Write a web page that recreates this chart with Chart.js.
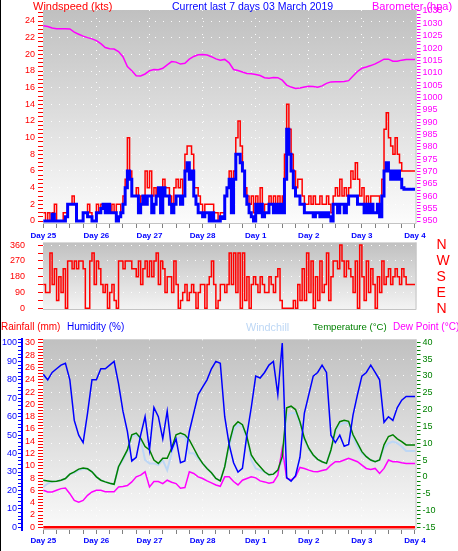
<!DOCTYPE html>
<html><head><meta charset="utf-8">
<script src="https://cdn.jsdelivr.net/npm/chart.js@4/dist/chart.umd.min.js"></script>
<style>
html,body{margin:0;padding:0;background:#fff;}
#wrap{position:relative;width:458px;height:551px;overflow:hidden;background:#fff;font-family:"Liberation Sans",Arial,sans-serif;}
canvas{position:absolute;left:0;}
.t{position:absolute;white-space:nowrap;line-height:12px;z-index:5;}
</style></head><body>
<div id="wrap">
<canvas id="c1" width="458" height="242" style="top:0"></canvas>
<canvas id="c2" width="458" height="105" style="top:224px"></canvas>
<canvas id="c3" width="458" height="231" style="top:320px"></canvas>
<div style="position:absolute;left:0;top:0;width:1px;height:551px;background:#000;z-index:6"></div>
<div class="t" style="left:33px;top:0;font-size:11px;color:#ff0000">Windspeed (kts)</div>
<div class="t" style="left:172px;top:0;font-size:10.5px;color:#0000ff">Current last 7 days 03 March 2019</div>
<div class="t" style="left:372px;top:0;font-size:11px;color:#ff00ff">Barometer (hpa)</div>
<div class="t" style="left:1px;top:321px;font-size:10px;color:#ff0000">Rainfall (mm)</div>
<div class="t" style="left:67px;top:321px;font-size:10px;color:#0000ff">Humidity (%)</div>
<div class="t" style="left:246px;top:321px;font-size:10.8px;color:#bdd7f5">Windchill</div>
<div class="t" style="left:313px;top:321px;font-size:9.6px;color:#008000">Temperature (°C)</div>
<div class="t" style="left:393px;top:321px;font-size:10px;color:#ff00ff">Dew Point (°C)</div>
</div>
<script>
// ---------- categories / tick labels ----------
const dayLabels = ['Day 25','Day 26','Day 27','Day 28','Day 1','Day 2','Day 3','Day 4'];
const windTickLabels = [0,2,4,6,8,10,12,14,16,18,20,22,24];
const baroTickLabels = [950,955,960,965,970,975,980,985,990,995,1000,1005,1010,1015,1020,1025,1030,1035];
const dirTickLabels = [0,90,180,270,360];
const dirLetters = ['N','E','S','W','N'];
const humTickLabels = [0,10,20,30,40,50,60,70,80,90,100];
const rainTickLabels = [0,2,4,6,8,10,12,14,16,18,20,22,24,26,28,30];
const tempTickLabels = [-15,-10,-5,0,5,10,15,20,25,30,35,40];

// sample times (hours since Day 25 00:00)
const hourlyTimes = Array.from({length:169}, (_, i) => i);
const twoHourTimes = Array.from({length:85}, (_, i) => i * 2);
const rainTimes = [0,24,48,72,96,120,144,168];

// ---------- series (hourly) ----------
const windGust = [
 1,0,1,0,1,2,0,0,0,1,1,2,2,3,2,0,0,0,1,1,2,1,0,0,
 2,1,2,2,2,2,1,2,1,2,2,1,3,5,10,6,3,3,4,2,3,3,6,4,
 6,3,4,3,4,4,5,4,4,3,2,4,5,4,5,3,8,9,9,8,4,4,3,2,
 1,2,2,2,2,1,1,0,1,1,3,4,6,2,6,10,12,9,6,4,3,2,3,1,
 3,2,4,1,2,2,3,2,3,2,3,2,3,8,14,11,8,6,4,5,5,3,2,2,
 3,2,3,2,2,3,2,2,3,2,1,3,4,3,5,3,4,3,4,6,5,7,5,3,
 4,2,3,2,3,3,3,3,2,5,11,13,10,9,8,10,8,7,6,6,6,6,6,6,6];
const windAvg = [
 0,0,0,0,0.8,0,0,0,0,0,0.5,2,2,2,2,0,0,0,1,1,0.5,0.5,0,0,
 1,1,1.5,2,1,2,1,1,1,0,0.5,1,2,4,6,5,3,3,3,1,2,3,2,3,
 3,1,2,3,4,1,4,3,3,2,1,2,3,3,2,3,6,7,5,6,3,2,1,1,
 0.5,1,1,0,1,0,0,0,0.5,0.3,3,4,5,1,5,8,8,7,6,3,2,1,0.5,0,
 2,1,2,0.5,1,1,2,2,1,2,1,2,1,5,11,8,6,4,3,3,2,2,1,1,
 1,1,0.5,1,1,0.5,1,0.5,1,0.5,0,2,2,1,2,2,1,2,3,3,3,3,2,2,
 2,1,2,1,2,1,1,2,0.5,3,6,7,6,5,6,5,6,5,4,3.8,3.8,3.8,3.8,3.8,3.8];
const windDir = [
 135,90,90,315,135,225,45,180,90,225,0,
 270,270,225,270,225,270,270,225,
 0,0,
 270,315,135,270,225,
 135,90,135,0,90,135,45,0,
 270,270,225,270,270,270,225,
 225,180,270,135,225,270,180,270,
 180,270,315,135,270,225,90,180,
 180,90,270,135,0,45,
 90,135,45,90,135,90,0,90,135,
 135,0,135,180,270,135,0,45,135,
 135,90,135,315,135,315,90,
 315,0,315,45,180,0,135,180,
 135,90,180,135,90,90,180,135,90,180,225,
 45,0,0,0,0,0,45,0,135,45,
 225,45,315,90,270,0,180,45,270,90,135,315,45,180,270,
 270,225,360,270,180,270,225,180,
 90,270,0,360,180,45,270,90,225,135,0,180,90,270,135,
 180,225,135,180,225,180,135,225,180,
 135,135,135,135,135];

// ---------- series (every 2 hours) ----------
const barometer = [
 1029,1028.7,1028.1,1027.8,1027.8,1027.8,1027.7,1026.4,1025.6,1024.8,1024.2,1023.7,1023,
 1021.8,1020.2,1019.7,1019.6,1018.6,1016.5,1012.5,1010.8,1008.8,1008.7,1009.5,1010.8,
 1011.3,1011.2,1011.8,1013.2,1014.5,1014.3,1013.5,1013.8,1015.5,1016.6,1017.3,1017.4,
 1017.2,1016.5,1015.6,1015.1,1015.4,1014,1011.3,1010.9,1010.3,1009.7,1009.6,1009.3,
 1008.9,1008,1007.8,1008.1,1008,1007,1005,1004.2,1003.6,1003.8,1004.2,1004.5,
 1004.4,1004.1,1004.7,1005.7,1006.3,1006.4,1006.4,1006.5,1006.8,1008.7,1010.5,1011.8,
 1012.3,1012.9,1013.6,1014.5,1015.5,1015.5,1014.7,1014.7,1015.1,1015.4,1015.4,1015.4];
const humidity = [
 83,80,84,86,88,89,80,58,50,46,62,80,80,
 86,86,88,90,78,63,52,36,38,50,60,42,
 65,60,48,63,42,48,35,36,52,62,72,76,
 80,86,90,89,60,45,35,30,32,50,65,82,
 81,84,88,90,72,100,27,25,28,38,62,72,
 82,84,88,84,50,46,50,44,45,61,72,82,
 84,88,84,80,57,60,58,65,69,71,71,71];
const temperature = [
 -1,-1.2,-1.4,-1.3,-1,-0.5,0.8,1.5,2.3,2.6,2.4,1.5,0,
 -1,-1.5,-1.9,-2.2,3,5.5,8,12.5,13,11.5,9,8,
 5,4,5.5,5.5,8.5,12.5,13,12.5,11,8.5,6,4,
 2.5,1.2,-0.5,-1.2,3,10,15,16.4,15.5,12,6.5,4.5,
 3,1.5,0.6,0.8,2,6,20.5,21,20,16.4,11.5,8.5,
 6.5,5.2,4.5,4,8,14,16.4,16.8,16.5,12.5,10,7.5,
 6,5,4.5,5,9.5,12,12.5,11.3,10.5,9.5,9.5,9.5];
const windchill = [
 -3,-2,-1.4,-1.3,-1,-0.5,0.8,1.2,2,2.3,2.4,1.5,0,
 -1,-1.5,-1.9,-2.2,3,5,7.5,12,12.5,11,5,4,
 4,3.5,5,2,7,11,12,12,7,7,5.5,4,
 2.5,1.2,-0.5,-1.2,3,9,14,15.5,15,11.5,5,2.5,
 2,1.5,0.6,0.8,2,5,18,19,19,16,11,8,
 6.5,5.2,4.5,4,8,13,15.5,16,16,11.5,9,7,
 6,5,4.5,5,8.5,10,10.5,10,9,7.7,7.7,7.7];
const dewPoint = [
 -4,-4.5,-4.5,-4,-3.5,-3.3,-5,-7,-7.5,-7,-5.5,-4.5,-4,
 -4,-4.4,-4.4,-4.4,-3,-2.9,-2.6,-1.5,0,0.5,1.5,-3,
 -1.4,-1.4,-2,-1,-1.6,-2,-3.4,-3.2,1.5,1,0,-0.5,
 -1.2,-1.8,-2.4,-2.8,0,0,-1.4,-2.4,-1,-0.5,0,-0.3,
 -1.2,-1.5,-1.9,-1.6,0.5,8.5,-0.4,-0.9,0,2.8,2.5,2,
 1.6,1.5,1.9,2.2,3.5,4.5,4.5,5,5.5,5,4.5,3.5,
 2.5,2.2,2.5,1,2.5,5,4.5,4.5,4.2,4,4,4];
const rainfall = [0,0,0,0,0,0,0,0];

// ---------- helpers ----------
Chart.defaults.font.family = '"Liberation Sans", Arial, sans-serif';
const pts = (t, v) => v.map((y, i) => ({x: t[i], y}));
const WHITE = 'rgba(255,255,255,0.95)';
const NONE = 'rgba(0,0,0,0)';

const plotBg = {
  id: 'plotBg',
  beforeDraw(chart, args, o) {
    const {ctx, chartArea: a} = chart;
    const g = ctx.createLinearGradient(0, a.top, 0, a.bottom);
    g.addColorStop(0, o.top); g.addColorStop(1, o.bottom);
    ctx.save();
    ctx.fillStyle = g;
    ctx.fillRect(a.left, a.top, a.right - a.left, a.bottom - a.top);
    ctx.strokeStyle = '#c4c4c4'; ctx.lineWidth = 1;
    ctx.beginPath();
    ctx.moveTo(a.right - 0.5, a.top); ctx.lineTo(a.right - 0.5, a.bottom - 0.5); ctx.lineTo(a.left, a.bottom - 0.5);
    ctx.stroke();
    ctx.restore();
  }
};

function xScale(h, pad, show) {
  return {
    type: 'linear', position: 'bottom', min: -0.136, max: 168.68, display: show,
    afterFit: s => { s.height = h; },
    border: {display: false, dash: [1, 7]},
    grid: {drawOnChartArea: true, tickLength: 4, tickColor: '#808080', tickBorderDash: [],
      color: c => (c.tick && c.tick.value % 24 === 0 && c.tick.value > 0 && c.tick.value < 168) ? WHITE : NONE},
    ticks: {stepSize: 6, includeBounds: false, autoSkip: false, maxRotation: 0, padding: pad,
      color: '#0000ff', font: {size: 8, weight: 'bold'},
      callback: v => v % 24 === 0 ? dayLabels[v / 24] : ''}
  };
}
const baseOpts = (pad, bg) => ({
  animation: false, responsive: false, events: [],
  layout: {padding: pad},
  plugins: {legend: {display: false}, tooltip: {enabled: false}, plotBg: bg},
  elements: {point: {radius: 0}, line: {tension: 0}}
});

// ---------- chart 1 : wind + barometer ----------
const o1 = baseOpts({top: 10, left: 0, right: 0, bottom: 0}, {top: '#c0c0c0', bottom: '#fcfcfc'});
o1.scales = {
  x: xScale(18, 3, true),
  wind: {position: 'left', min: -0.36, max: 25.32, afterFit: s => { s.width = 43; },
    border: {display: false, dash: [1, 7]},
    grid: {drawOnChartArea: true, tickLength: 5, tickColor: '#ff0000', tickBorderDash: [],
      color: c => (c.tick && c.tick.value > 0 && windTickLabels.includes(c.tick.value)) ? WHITE : NONE},
    ticks: {stepSize: 0.5, includeBounds: false, autoSkip: false, padding: 3, color: '#ff0000', font: {size: 9},
      callback: v => windTickLabels.includes(v) ? String(v) : ''}},
  baro: {position: 'right', min: 948.79, max: 1035.39, afterFit: s => { s.width = 41.5; },
    border: {display: false},
    grid: {drawOnChartArea: false, tickLength: 4, tickColor: '#ff00ff'},
    ticks: {stepSize: 1.25, includeBounds: false, autoSkip: false, padding: 2, color: '#ff00ff', font: {size: 9},
      callback: v => baroTickLabels.includes(v) ? String(v) : ''}}
};
new Chart(document.getElementById('c1'), {
  type: 'line',
  data: {datasets: [
    {label: 'Wind gust', data: pts(hourlyTimes, windGust), yAxisID: 'wind', borderColor: '#ff0000', borderWidth: 1.5, stepped: true, order: 3},
    {label: 'Wind average', data: pts(hourlyTimes, windAvg), yAxisID: 'wind', borderColor: '#0000ff', borderWidth: 3, stepped: true, order: 2},
    {label: 'Barometer', data: pts(twoHourTimes, barometer), yAxisID: 'baro', borderColor: '#ff00ff', borderWidth: 1.5, order: 1}
  ]},
  options: o1, plugins: [plotBg]
});

// ---------- chart 2 : wind direction ----------
const o2 = baseOpts({top: 18.3, left: 0, right: 0, bottom: 19}, {top: '#c0c0c0', bottom: '#f4f4f4'});
o2.scales = {
  x: {type: 'linear', min: -0.136, max: 168.68, display: false},
  dir: {position: 'left', min: -9.67, max: 375.4, afterFit: s => { s.width = 43; },
    border: {display: false, dash: [1, 7]},
    grid: {drawOnChartArea: true, tickLength: 5, tickColor: '#ff0000', tickBorderDash: [],
      color: c => (c.tick && c.tick.value > 0 && dirTickLabels.includes(c.tick.value)) ? WHITE : NONE},
    ticks: {stepSize: 45, includeBounds: false, autoSkip: false, padding: 13, color: '#ff0000', font: {size: 9},
      callback: v => dirTickLabels.includes(v) ? String(v) : ''}},
  dirR: {position: 'right', min: -5.45, max: 374.7, afterFit: s => { s.width = 41.5; },
    border: {display: false},
    grid: {drawOnChartArea: false, drawTicks: true, tickLength: 20, tickColor: NONE},
    ticks: {stepSize: 90, includeBounds: false, autoSkip: false, padding: 0, color: '#ff0000', font: {size: 14},
      callback: v => dirLetters[v / 90]}}
};
new Chart(document.getElementById('c2'), {
  type: 'line',
  data: {datasets: [
    {label: 'Wind direction', data: pts(hourlyTimes, windDir), yAxisID: 'dir', borderColor: '#ff0000', borderWidth: 1.5, stepped: true}
  ]},
  options: o2, plugins: [plotBg]
});

// ---------- chart 3 : humidity / temperature ----------
const o3 = baseOpts({top: 19.3, left: 0, right: 0, bottom: 0}, {top: '#c0c0c0', bottom: '#fafafa'});
o3.scales = {
  x: xScale(21, 1.7, true),
  hum: {position: 'left', weight: 2, min: -1.465, max: 102, afterFit: s => { s.width = 22; },
    border: {display: true, color: '#0000ff', width: 2},
    grid: {drawOnChartArea: false, tickLength: 4, tickColor: '#0000ff'},
    ticks: {stepSize: 2, includeBounds: false, autoSkip: false, padding: 1, color: '#0000ff', font: {size: 9},
      callback: v => humTickLabels.includes(v) ? String(v) : ''}},
  rain: {position: 'left', weight: 1, min: -0.44, max: 30.6, afterFit: s => { s.width = 21; },
    border: {display: false},
    grid: {drawOnChartArea: false, tickLength: 5, tickColor: '#ff0000'},
    ticks: {stepSize: 0.5, includeBounds: false, autoSkip: false, padding: 3, color: '#ff0000', font: {size: 9},
      callback: v => rainTickLabels.includes(v) ? String(v) : ''}},
  temp: {position: 'right', min: -15.8, max: 40.89, afterFit: s => { s.width = 41.5; },
    border: {display: false, dash: [1, 7]},
    grid: {drawOnChartArea: true, tickLength: 4, tickColor: '#008000', tickBorderDash: [],
      color: c => (c.tick && c.tick.value > -15 && c.tick.value < 40 && tempTickLabels.includes(c.tick.value)) ? WHITE : NONE},
    ticks: {stepSize: 1.25, includeBounds: false, autoSkip: false, padding: 2, color: '#008000', font: {size: 9},
      callback: v => tempTickLabels.includes(v) ? String(v) : ''}}
};
new Chart(document.getElementById('c3'), {
  type: 'line',
  data: {datasets: [
    {label: 'Rainfall', data: pts(rainTimes, rainfall), yAxisID: 'rain', borderColor: '#ff0000', borderWidth: 2.5, order: 5},
    {label: 'Windchill', data: pts(twoHourTimes, windchill), yAxisID: 'temp', borderColor: '#bdd7f5', borderWidth: 2, order: 4},
    {label: 'Dew Point', data: pts(twoHourTimes, dewPoint), yAxisID: 'temp', borderColor: '#ff00ff', borderWidth: 1.5, order: 3},
    {label: 'Temperature', data: pts(twoHourTimes, temperature), yAxisID: 'temp', borderColor: '#008000', borderWidth: 1.5, order: 2},
    {label: 'Humidity', data: pts(twoHourTimes, humidity), yAxisID: 'hum', borderColor: '#0000ff', borderWidth: 1.5, order: 1}
  ]},
  options: o3, plugins: [plotBg]
});
</script>
</body></html>
